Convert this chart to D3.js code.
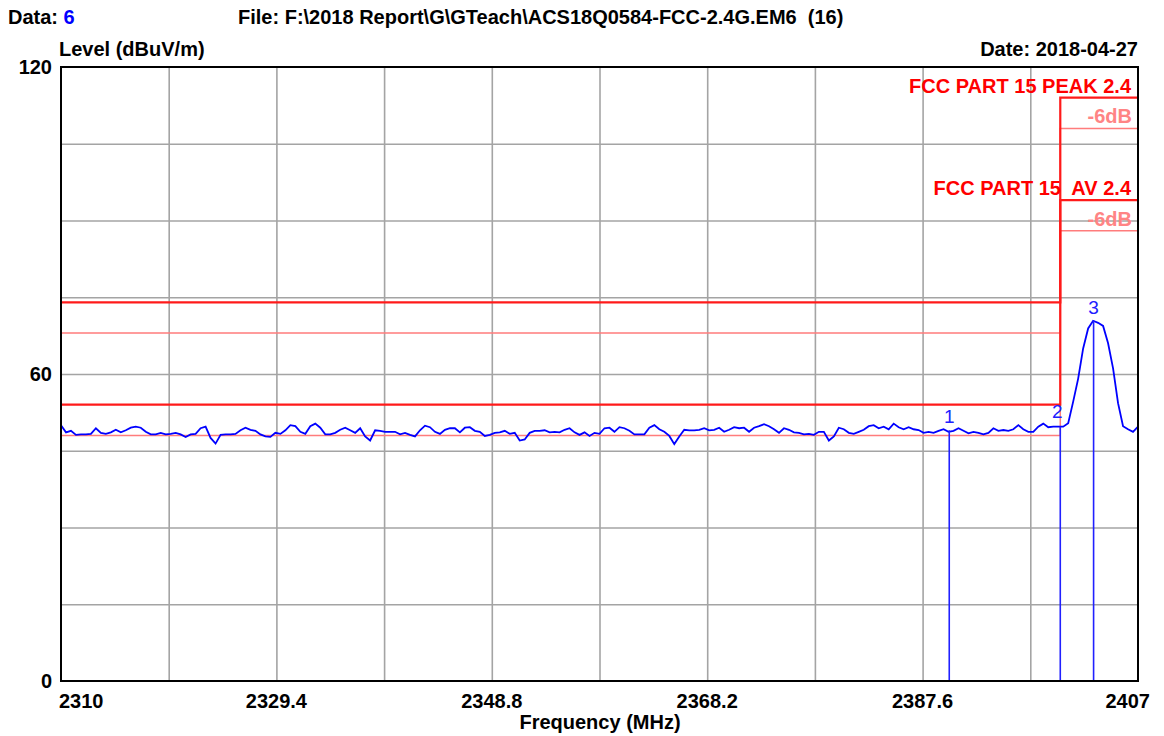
<!DOCTYPE html>
<html>
<head>
<meta charset="utf-8">
<script src="https://cdn.jsdelivr.net/npm/d3@7"></script>
<style>
    body { margin: 0; background: #fff; }
    svg { font-family: "Liberation Sans", Arial, sans-serif; }
    .lbl { font-weight: bold; font-size: 20px; fill: #000; white-space: pre; }
    .grid line { stroke: #a4a4a4; stroke-width: 1.6; }
    .grid path { display: none; }
</style>
</head>
<body>
<div id="chart"></div>
<script>

// sweep: 217 points from 2310 to 2407 MHz
var freqStart = 2310;
var freqStop = 2407;

var levels = [
    50.0, 48.6, 48.9, 48.1, 48.2, 48.2, 48.3, 49.4, 48.5, 48.3,
    48.6, 49.1, 48.6, 49.0, 49.5, 49.7, 49.5, 48.7, 48.2, 48.2,
    48.5, 48.2, 48.3, 48.5, 48.2, 47.7, 48.2, 48.3, 49.4, 49.7,
    47.5, 46.4, 48.1, 48.2, 48.2, 48.3, 49.0, 49.5, 49.1, 48.9,
    48.2, 47.8, 47.7, 48.5, 48.3, 49.0, 50.0, 49.8, 48.7, 48.3,
    49.8, 50.3, 49.5, 48.2,
    48.2, 48.5, 49.1, 49.5, 49.0, 48.5, 49.4, 47.8, 47.0, 49.0,
    48.9, 48.7, 48.7, 48.7, 48.2, 48.5, 48.1, 47.8, 49.0, 49.9,
    49.6, 48.7, 48.3, 49.1, 49.4, 49.4, 48.6, 49.5, 49.6, 48.9,
    48.7, 47.9, 48.1, 48.5, 48.6, 48.9, 48.3, 48.5, 47.0, 47.2,
    48.5, 48.9, 48.9, 49.0, 48.6, 48.7, 48.6, 49.1, 49.4, 48.6,
    48.1, 48.6, 47.9, 48.5,
    48.3, 49.4, 49.5, 48.7, 49.6, 49.4, 48.9, 48.2, 48.2, 48.2,
    49.5, 50.0, 49.2, 48.7, 47.9, 46.3, 47.8, 49.1, 49.0, 49.0,
    49.1, 49.4, 49.0, 49.1, 49.5, 48.7, 49.1, 49.6, 49.4, 49.5,
    48.7, 49.5, 49.8, 50.2, 49.8, 49.2, 48.5, 49.4, 49.1, 48.6,
    48.5, 48.2, 48.3, 48.1, 48.7, 48.7, 47.0, 47.8, 49.5, 49.2,
    48.5, 48.3, 48.7, 49.1, 49.8,
    50.0, 49.4, 49.7, 49.2, 50.3, 49.6, 49.2, 49.6, 49.2, 49.05,
    48.5, 48.7, 48.5, 48.9, 49.2, 48.7, 48.9, 49.4, 48.9, 48.4,
    48.7, 48.5, 48.2, 48.5, 49.4, 48.9, 49.05, 48.9, 49.2, 50.0,
    49.2, 48.7, 48.7, 49.7, 50.3, 49.6, 49.7, 49.7, 49.7, 50.4,
    54.6, 59.1, 65.0, 68.9, 70.4, 70.0, 69.4, 66.0, 61.1, 54.3,
    49.8, 49.2, 48.7, 49.7
];

var xTickLabels = [2310, 2329.4, 2348.8, 2368.2, 2387.6, 2407];
var xGrid = [2319.7, 2329.4, 2339.1, 2348.8, 2358.5, 2368.2, 2377.9, 2387.6, 2397.3];
var yTickLabels = [0, 60, 120];
var yGrid = [15, 30, 45, 60, 75, 90, 105];

// limit lines: restricted band below 2400 MHz, band edge above
var limitNames = ["FCC PART 15 PEAK 2.4", "FCC PART 15  AV 2.4"];
var limitLow = [74, 54];
var limitHigh = [114, 94];
var limitEdge = 2400;
var limitMargin = 6;

var markerIds = ["1", "2", "3"];
var markerFreqs = [2390, 2400, 2403];
var markerLevels = [49.0, 49.7, 70.4];

var width = 1164, height = 736;
var margin = { top: 67, left: 61, right: 26, bottom: 55 };

var svg = d3.select("#chart")
    .append("svg")
    .attr("width", width)
    .attr("height", height);

svg.append("rect").attr("width", width).attr("height", height).attr("fill", "#fff");

var xScale = d3.scaleLinear()
    .domain([freqStart, freqStop])
    .range([margin.left, width - margin.right]);

var yScale = d3.scaleLinear()
    .domain([0, 120])
    .range([height - margin.bottom, margin.top]);

/*
GRID
*/
svg.append("g")
    .attr("class", "grid")
    .attr("transform", `translate(0, ${height - margin.bottom})`)
    .call(d3.axisBottom(xScale).tickValues(xGrid).tickSize(-(yScale(0) - yScale(120))).tickFormat(""));

svg.append("g")
    .attr("class", "grid")
    .attr("transform", `translate(${margin.left}, 0)`)
    .call(d3.axisLeft(yScale).tickValues(yGrid).tickSize(-(xScale(freqStop) - xScale(freqStart))).tickFormat(""));

/*
LIMIT LINES
*/
var stepLine = d3.line()
    .x(function(d) { return xScale(d[0]); })
    .y(function(d) { return yScale(d[1]); });

limitLow.forEach(function(lo, i) {
    var hi = limitHigh[i];
    // -6dB margin line (lighter)
    svg.append("path")
        .attr("d", stepLine([[freqStart, lo - limitMargin], [limitEdge, lo - limitMargin], [limitEdge, hi - limitMargin], [freqStop, hi - limitMargin]]))
        .attr("fill", "none")
        .attr("stroke", "#ff7c7c")
        .attr("stroke-width", 1.5);
});

limitLow.forEach(function(lo, i) {
    var hi = limitHigh[i];
    svg.append("path")
        .attr("d", stepLine([[freqStart, lo], [limitEdge, lo], [limitEdge, hi], [freqStop, hi]]))
        .attr("fill", "none")
        .attr("stroke", "#ff1a1a")
        .attr("stroke-width", 2.2);
});

// limit labels
limitHigh.forEach(function(hi, i) {
    svg.append("text")
        .attr("class", "lbl")
        .attr("x", xScale(freqStop) - 7)
        .attr("y", yScale(hi) - 5)
        .attr("text-anchor", "end")
        .style("fill", "#ff0000")
        .text(limitNames[i]);

    svg.append("text")
        .attr("class", "lbl")
        .attr("x", xScale(freqStop) - 6)
        .attr("y", yScale(hi - limitMargin) - 5)
        .attr("text-anchor", "end")
        .style("fill", "#ff8484")
        .text("-6dB");
});

/*
TRACE
*/
var trace = levels.map(function(v, i) {
    return [freqStart + i * (freqStop - freqStart) / (levels.length - 1), v];
});

svg.append("path")
    .attr("d", d3.line()
        .x(function(d) { return xScale(d[0]); })
        .y(function(d) { return yScale(d[1]); })(trace))
    .attr("fill", "none")
    .attr("stroke", "#0000ff")
    .attr("stroke-width", 1.8);

/*
MARKERS
*/
markerFreqs.forEach(function(f, i) {
    svg.append("line")
        .attr("x1", xScale(f)).attr("x2", xScale(f))
        .attr("y1", yScale(markerLevels[i])).attr("y2", yScale(0))
        .attr("stroke", "#2020ff")
        .attr("stroke-width", 1.6);

    svg.append("text")
        .attr("x", xScale(f) - (i == 1 ? 3 : 0))
        .attr("y", yScale(markerLevels[i]) - 7 - (i == 1 ? 2 : 0))
        .attr("text-anchor", "middle")
        .attr("font-size", 19)
        .attr("fill", "#2020ff")
        .text(markerIds[i]);
});

/*
BORDER
*/
svg.append("rect")
    .attr("x", xScale(freqStart))
    .attr("y", yScale(120))
    .attr("width", xScale(freqStop) - xScale(freqStart))
    .attr("height", yScale(0) - yScale(120))
    .attr("fill", "none")
    .attr("stroke", "#000")
    .attr("stroke-width", 2);

/*
AXIS LABELS
*/
yTickLabels.forEach(function(v) {
    svg.append("text")
        .attr("class", "lbl")
        .attr("x", margin.left - 9)
        .attr("y", yScale(v) + 7)
        .attr("text-anchor", "end")
        .text(v);
});

xTickLabels.forEach(function(v, i) {
    var anchor = i == 0 ? "start" : (i == xTickLabels.length - 1 ? "end" : "middle");
    var dx = i == 0 ? -2 : (i == xTickLabels.length - 1 ? 12 : 0);
    svg.append("text")
        .attr("class", "lbl")
        .attr("x", xScale(v) + dx)
        .attr("y", 708)
        .attr("text-anchor", anchor)
        .text(v);
});

svg.append("text")
    .attr("class", "lbl")
    .attr("x", 600)
    .attr("y", 729)
    .attr("text-anchor", "middle")
    .text("Frequency (MHz)");

svg.append("text")
    .attr("class", "lbl")
    .attr("x", 59)
    .attr("y", 56)
    .text("Level (dBuV/m)");

svg.append("text")
    .attr("class", "lbl")
    .attr("x", 1138)
    .attr("y", 56)
    .attr("text-anchor", "end")
    .text("Date: 2018-04-27");

var dataLbl = svg.append("text")
    .attr("class", "lbl")
    .attr("x", 8)
    .attr("y", 24)
    .text("Data: ");
dataLbl.append("tspan").style("fill", "#0000ff").text("6");

svg.append("text")
    .attr("class", "lbl")
    .attr("x", 238)
    .attr("y", 24)
    .text("File: F:\\2018 Report\\G\\GTeach\\ACS18Q0584-FCC-2.4G.EM6  (16)");

</script>
</body>
</html>
